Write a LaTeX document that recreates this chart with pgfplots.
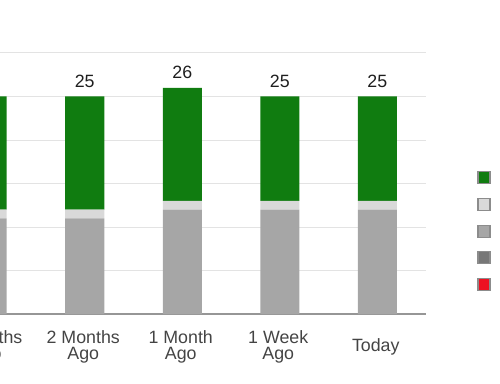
\documentclass[border=0pt]{standalone}
\usepackage{fontspec}
\setmainfont{Liberation Sans}
\usepackage{pgfplots}
\pgfplotsset{compat=1.18}
\definecolor{cgreen}{RGB}{16,124,16}
\definecolor{clight}{RGB}{217,217,217}
\definecolor{cgray}{RGB}{166,166,166}
\definecolor{cdark}{RGB}{119,119,119}
\definecolor{cred}{RGB}{238,17,34}
\definecolor{cgrid}{RGB}{227,227,227}
\definecolor{cbase}{RGB}{150,150,150}
\definecolor{cborder}{RGB}{140,140,140}
\definecolor{ctick}{RGB}{68,68,68}
\definecolor{clabel}{RGB}{30,30,30}
\pgfplotsset{
  geom/.style={at={(-61.5pt,69pt)}, anchor=south west,
    scale only axis, width=487.5pt, height=261pt,
    xmin=0.5, xmax=5.5, ymin=0, ymax=30},
}
\begin{document}
\begin{tikzpicture}
\useasboundingbox (0pt,0pt) rectangle (500pt,383pt);
\clip (0pt,0pt) rectangle (500pt,383pt);
\begin{axis}[
  geom,
  ybar stacked, bar width=39pt,
  xtick={1,2,3,4,5},
  xticklabels={{3 Months\\Ago},{2 Months\\Ago},{1 Month\\Ago},{1 Week\\Ago},{Today}},
  xticklabel style={anchor=center, yshift=-33pt, xshift=-1.5pt, align=center, font=\fontsize{17.8pt}{16.5pt}\selectfont, text=ctick},
  ytick={5,10,...,30}, yticklabels={},
  ymajorgrids, grid style={draw=cgrid, line width=1pt},
  extra y ticks={0}, extra y tick labels={},
  extra y tick style={grid style={draw=cbase, line width=1.5pt}},
  major tick length=0pt,
  axis line style={draw=none},
  legend style={at={(axis description cs:1.1056,0.5475)}, anchor=north west, draw=none, fill=none, inner sep=0pt, outer sep=0pt, row sep=13.5pt, font=\fontsize{1pt}{1pt}\selectfont, nodes={inner sep=0pt, outer sep=0pt}},
  legend cell align=left,
]
\addlegendimage{legend image code/.code={\draw[fill=cgreen,draw=cborder,line width=1.2pt] (0pt,-6pt) rectangle (12pt,6pt);}}
\addlegendentry{\mbox{}}
\addlegendimage{legend image code/.code={\draw[fill=clight,draw=cborder,line width=1.2pt] (0pt,-6pt) rectangle (12pt,6pt);}}
\addlegendentry{\mbox{}}
\addlegendimage{legend image code/.code={\draw[fill=cgray,draw=cborder,line width=1.2pt] (0pt,-6pt) rectangle (12pt,6pt);}}
\addlegendentry{\mbox{}}
\addlegendimage{legend image code/.code={\draw[fill=cdark,draw=cborder,line width=1.2pt] (0pt,-6pt) rectangle (12pt,6pt);}}
\addlegendentry{\mbox{}}
\addlegendimage{legend image code/.code={\draw[fill=cred,draw=cborder,line width=1.2pt] (0pt,-6pt) rectangle (12pt,6pt);}}
\addlegendentry{\mbox{}}
% stacked from bottom: gray, light gray, green, dark gray, red
\addplot[fill=cgray, draw=none, forget plot] coordinates {(1,11) (2,11) (3,12) (4,12) (5,12)};
\addplot[fill=clight, draw=none, forget plot] coordinates {(1,1) (2,1) (3,1) (4,1) (5,1)};
\addplot[fill=cgreen, draw=none, forget plot] coordinates {(1,13) (2,13) (3,13) (4,12) (5,12)};
\addplot[fill=cdark, draw=none, forget plot] coordinates {(1,0) (2,0) (3,0) (4,0) (5,0)};
\addplot[fill=cred, draw=none, forget plot] coordinates {(1,0) (2,0) (3,0) (4,0) (5,0)};
\end{axis}
% overlay axis with the same geometry: totals as labels above the bars
\begin{axis}[geom, hide axis, clip=false]
\addplot[draw=none, mark=none,
  nodes near coords, point meta=explicit symbolic,
  nodes near coords style={anchor=base, yshift=9.3pt, font=\fontsize{17.8pt}{17pt}\selectfont, text=clabel}]
  coordinates {(2,25) [25] (3,26) [26] (4,25) [25] (5,25) [25]};
\end{axis}
\end{tikzpicture}
\end{document}
